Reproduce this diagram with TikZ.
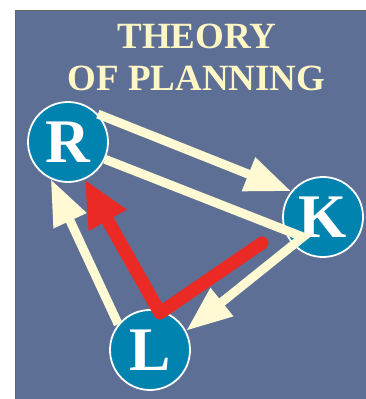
\documentclass[tikz,border=0pt]{standalone}
\usepackage{fontspec}
\setmainfont{Liberation Serif}
\usetikzlibrary{arrows.meta}
\definecolor{bgc}{HTML}{5D6F94}
\definecolor{ballc}{HTML}{0083AF}
\definecolor{creamc}{HTML}{FFFAD4}
\definecolor{redc}{HTML}{EC2A25}
\definecolor{titlec}{HTML}{FFF6C6}
\begin{document}
\begin{tikzpicture}[x=1pt,y=-1pt,
  ball/.style={circle, fill=ballc, draw=white, line width=1.8pt, minimum size=80pt, inner sep=0pt, text=white, font=\bfseries\fontsize{62}{62}\selectfont},
  titletext/.style={anchor=base, text=titlec, font=\bfseries\fontsize{37}{37}\selectfont, inner sep=0pt},
  creamarrow/.style={draw=creamc, line width=9pt, -{Triangle[length=46pt,width=34pt]}},
  redarrow/.style={draw=redc, line width=13pt, line cap=round, line join=round, -{Triangle[length=47pt,width=40pt]}}]
\useasboundingbox (0,0) rectangle (366,399);
\fill[bgc] (15,10) rectangle (366,399);
\draw[black!60, line width=1pt] (15,399) -- (15,10) -- (366,10);
\node[titletext] (t1) at (197,48) {THEORY};
\node[titletext] (t2) at (196.5,90) {OF PLANNING};
\node[ball] (R) at (68,142) {R};
\node[ball] (K) at (323,217) {K};
\node[ball] (L) at (150,350) {L};
\coordinate (kc) at (303,237);
\coordinate (rs) at (262,243);
\coordinate (rc) at (160,313);
\draw[creamarrow] (R.43) -- (K.141);
\draw[creamarrow, line join=miter] (R.-25) -- (kc) -- (L.28);
\draw[creamarrow] (L.141) -- (R.245);
\draw[redarrow] (rs) -- (rc) -- (R.-66);
\end{tikzpicture}
\end{document}
